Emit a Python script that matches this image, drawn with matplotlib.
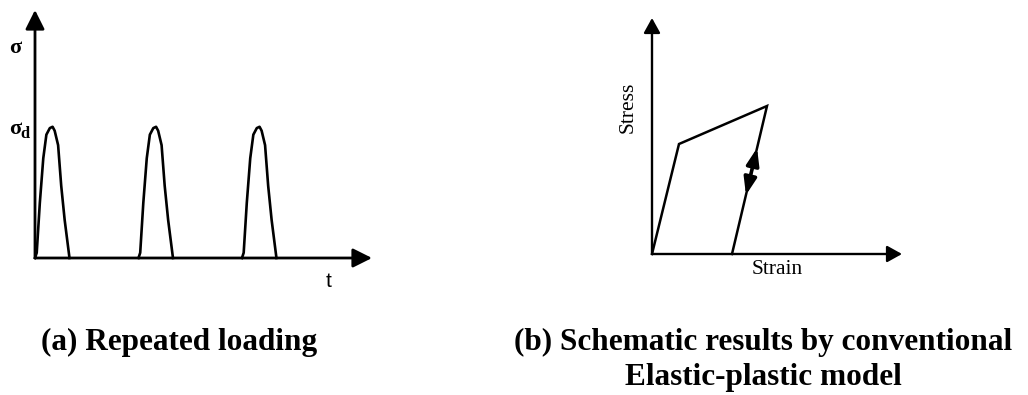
import matplotlib
matplotlib.use("Agg")
import matplotlib.pyplot as plt

W, H = 1028, 395

# (a) repeated loading: pulse starts, pulse duration, peak stress (sigma_d = 1)
pulse_starts = [0.0, 3.0, 6.0]
pulse_duration = 1.0
pulse_shape_t = [0.0, 0.05, 0.14, 0.24, 0.33, 0.43, 0.51, 0.57, 0.67, 0.76, 0.86, 1.0]
pulse_shape_s = [0.0, 0.04, 0.42, 0.76, 0.94, 0.99, 1.00, 0.97, 0.86, 0.55, 0.29, 0.0]
t_max = 9.77
sigma_max = 1.89

# (b) elastic-plastic path: load, yield, further loading, unloading
strain = [0.0, 0.27, 1.15, 0.80]
stress = [0.0, 1.10, 1.48, 0.0]
cycle_stress = [0.59, 1.06]   # reload / unload arrow range
strain_max = 2.50
stress_max = 2.36


def px_axes(fig, x0, y0, w, h):
    # x0, y0 = pixel position of the origin (bottom-left), w/h in pixels
    return fig.add_axes([x0 / W, (H - y0) / H, w / W, h / H])


fig = plt.figure(figsize=(W / 100, H / 100), dpi=100)

# ---------- panel (a) ----------
ax1 = px_axes(fig, 35, 258, 337, 248)
ax1.set_xlim(0, t_max)
ax1.set_ylim(0, sigma_max)
ax1.axis('off')

for t0 in pulse_starts:
    ts = [t0 + dt * pulse_duration for dt in pulse_shape_t]
    ax1.plot(ts, pulse_shape_s, color='black', lw=1.9, clip_on=False,
             solid_joinstyle='round')

big_head = dict(arrowstyle='-|>,head_length=0.4,head_width=0.2', color='black',
                lw=2.0, shrinkA=0, shrinkB=0, mutation_scale=29)
ax1.annotate('', xy=(t_max, 0), xytext=(0, 0), arrowprops=big_head, annotation_clip=False)
ax1.annotate('', xy=(0, sigma_max), xytext=(0, 0), arrowprops=big_head, annotation_clip=False)

serif_b = dict(family='Liberation Serif', weight='bold')
fig.text(9 / W, 1 - 53 / H, 'σ', fontsize=16, va='baseline', ha='left', **serif_b)
fig.text(9 / W, 1 - 134 / H, 'σ', fontsize=16, va='baseline', ha='left', **serif_b)
fig.text(20.5 / W, 1 - 137.5 / H, 'd', fontsize=12, va='baseline', ha='left', **serif_b)
fig.text(326 / W, 1 - 287 / H, 't', fontsize=15, va='baseline', ha='left',
         family='Liberation Sans')

# ---------- panel (b) ----------
ax2 = px_axes(fig, 652, 254, 250, 236)
ax2.set_xlim(0, strain_max)
ax2.set_ylim(0, stress_max)
ax2.axis('off')

ax2.plot(strain, stress, color='black', lw=1.8, clip_on=False, solid_joinstyle='miter')

small_head = dict(arrowstyle='-|>,head_length=0.45,head_width=0.25', color='black',
                  lw=1.7, shrinkA=0, shrinkB=0, mutation_scale=20)
ax2.annotate('', xy=(strain_max, 0), xytext=(0, 0), arrowprops=small_head, annotation_clip=False)
ax2.annotate('', xy=(0, stress_max), xytext=(0, 0), arrowprops=small_head, annotation_clip=False)


def unload_strain(s):
    return strain[3] + (strain[2] - strain[3]) * s / stress[2]


ax2.annotate('', xy=(unload_strain(cycle_stress[1]), cycle_stress[1]),
             xytext=(unload_strain(cycle_stress[0]), cycle_stress[0]),
             arrowprops=dict(arrowstyle='<|-|>,head_length=0.6,head_width=0.22',
                             color='black', lw=2.6, shrinkA=0, shrinkB=0,
                             mutation_scale=17),
             annotation_clip=False)

fig.text(628 / W, 1 - 107 / H, 'Stress', fontsize=15.5, rotation=90, ha='center',
         va='center', family='Liberation Serif')
fig.text(777 / W, 1 - 270 / H, 'Strain', fontsize=15.5, ha='center', va='center',
         family='Liberation Serif')

# ---------- captions ----------
fig.text(179 / W, 1 - 350 / H, '(a) Repeated loading', fontsize=22.5, ha='center',
         va='baseline', **serif_b)
fig.text(763 / W, 1 - 350 / H, '(b) Schematic results by conventional', fontsize=22.5,
         ha='center', va='baseline', **serif_b)
fig.text(763 / W, 1 - 385 / H, 'Elastic-plastic model', fontsize=22.5, ha='center',
         va='baseline', **serif_b)

fig.savefig('out.png', dpi=100)
